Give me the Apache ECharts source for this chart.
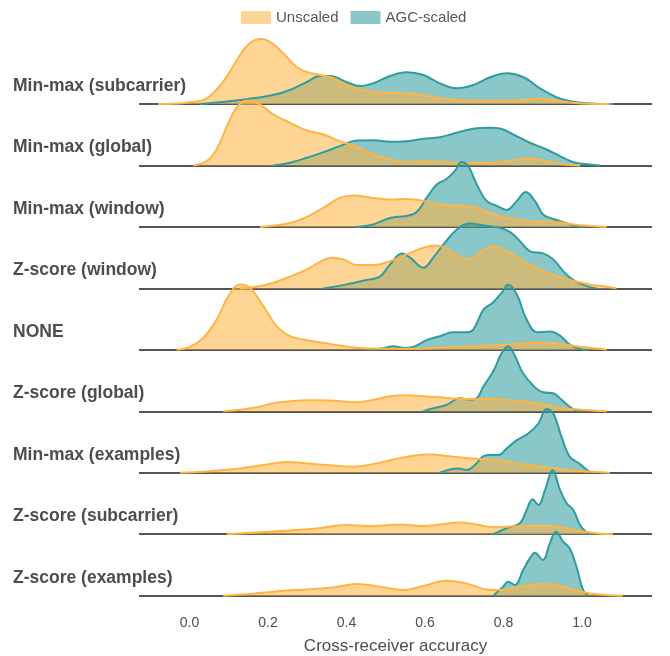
<!DOCTYPE html>
<html><head><meta charset="utf-8">
<script src="https://cdn.jsdelivr.net/npm/echarts@6/dist/echarts.min.js"></script>
<style>html,body{margin:0;padding:0;background:#fff}#c{width:670px;height:656px}</style>
</head><body><div id="c"></div>
<script>
// Rows, top to bottom
const rowNames = ['Min-max (subcarrier)','Min-max (global)','Min-max (window)','Z-score (window)','NONE','Z-score (global)','Min-max (examples)','Z-score (subcarrier)','Z-score (examples)'];
const seriesNames = ['Unscaled','AGC-scaled'];
const xTickValues = [0, 0.2, 0.4, 0.6, 0.8, 1.0];
const xAxisTitle = 'Cross-receiver accuracy';

// density curves: [accuracy, density]
const unscaled_minmaxSubcarrier = [[-0.08,0],[-0.042,0.02],[0.001,0.17],[0.044,0.57],[0.085,2.2],[0.129,4.9],[0.154,6.1],[0.184,6.5],[0.213,6.0],[0.238,5.1],[0.273,3.7],[0.299,3.2],[0.332,2.9],[0.366,2.6],[0.400,1.9],[0.434,1.5],[0.468,1.2],[0.553,1.07],[0.595,0.9],[0.638,0.57],[0.681,0.4],[0.722,0.33],[0.808,0.33],[0.850,0.4],[0.893,0.53],[0.936,0.33],[0.977,0.13],[1.02,0.02],[1.07,0]];
const agc_minmaxSubcarrier = [[0.027,0],[0.129,0.4],[0.213,0.9],[0.256,1.4],[0.299,2.2],[0.332,2.8],[0.358,2.8],[0.400,2.2],[0.434,1.8],[0.468,2.07],[0.511,2.8],[0.553,3.17],[0.596,2.9],[0.638,2.07],[0.681,1.57],[0.723,1.9],[0.766,2.67],[0.808,3.07],[0.850,2.7],[0.893,1.57],[0.936,0.67],[0.978,0.23],[1.020,0.05],[1.08,0]];

const unscaled_minmaxGlobal = [[0.010,0],[0.044,0.43],[0.069,1.6],[0.095,3.9],[0.120,5.8],[0.146,6.5],[0.171,6.3],[0.214,5.1],[0.256,4.27],[0.299,3.5],[0.341,3.1],[0.383,2.43],[0.426,1.87],[0.468,1.1],[0.511,0.6],[0.553,0.33],[0.596,0.43],[0.638,0.37],[0.681,0.27],[0.723,0.27],[0.766,0.27],[0.808,0.43],[0.867,0.7],[0.910,0.43],[0.952,0.13],[0.995,0]];
const agc_minmaxGlobal = [[0.214,0],[0.256,0.27],[0.299,0.77],[0.341,1.33],[0.383,1.93],[0.426,2.5],[0.468,2.53],[0.511,2.37],[0.553,2.43],[0.596,2.67],[0.638,2.83],[0.681,3.27],[0.723,3.67],[0.766,3.77],[0.791,3.7],[0.825,3.1],[0.867,2.27],[0.910,1.6],[0.952,0.77],[0.978,0.33],[1.020,0.1],[1.046,0]];

const unscaled_minmaxWindow = [[0.180,0],[0.256,0.4],[0.299,1.0],[0.341,1.9],[0.383,2.9],[0.417,3.15],[0.468,2.9],[0.511,2.75],[0.553,2.8],[0.596,2.6],[0.638,2.25],[0.681,2.15],[0.723,2.0],[0.766,1.4],[0.808,0.9],[0.850,0.65],[0.893,0.55],[0.936,0.5],[0.978,0.25],[1.020,0.1],[1.063,0]];
const agc_minmaxWindow = [[0.426,0],[0.468,0.25],[0.511,0.9],[0.553,1.1],[0.579,1.5],[0.604,2.9],[0.630,4.25],[0.655,4.8],[0.676,5.6],[0.693,6.5],[0.710,6.1],[0.732,4.25],[0.757,2.6],[0.783,2.1],[0.808,1.7],[0.834,2.6],[0.857,3.5],[0.880,2.6],[0.901,1.25],[0.927,0.8],[0.952,0.5],[0.978,0.15],[1.003,0]];

const unscaled_zscoreWindow = [[0.129,0],[0.171,0.17],[0.214,0.57],[0.256,1.17],[0.299,1.9],[0.332,2.63],[0.362,3.07],[0.392,2.9],[0.426,2.33],[0.468,2.33],[0.511,2.73],[0.553,3.4],[0.596,4.07],[0.630,4.3],[0.655,3.97],[0.681,3.3],[0.710,2.9],[0.740,3.57],[0.774,4.23],[0.808,3.73],[0.850,2.73],[0.893,1.9],[0.936,1.23],[0.978,0.73],[1.020,0.4],[1.063,0.17],[1.088,0]];
const agc_zscoreWindow = [[0.341,0],[0.400,0.4],[0.451,0.83],[0.485,1.17],[0.511,2.4],[0.541,3.5],[0.562,3.07],[0.596,2.07],[0.621,3.07],[0.647,4.4],[0.681,5.9],[0.715,6.5],[0.749,6.3],[0.791,6.07],[0.817,5.63],[0.842,4.73],[0.867,3.73],[0.901,3.5],[0.927,2.9],[0.952,1.73],[0.978,0.83],[1.012,0.23],[1.037,0]];

const unscaled_none = [[-0.033,0],[0.001,0.3],[0.035,1.2],[0.069,3.0],[0.099,5.37],[0.129,6.53],[0.154,6.2],[0.188,4.37],[0.222,2.37],[0.256,1.37],[0.299,0.97],[0.341,0.7],[0.383,0.43],[0.426,0.2],[0.468,0.13],[0.553,0.1],[0.638,0.2],[0.723,0.37],[0.808,0.53],[0.876,0.7],[0.936,0.63],[0.995,0.3],[1.046,0.1],[1.063,0]];
const agc_none = [[0.451,0],[0.494,0.17],[0.519,0.37],[0.545,0.2],[0.570,0.3],[0.604,0.97],[0.638,1.37],[0.672,1.77],[0.706,1.77],[0.723,2.03],[0.749,4.03],[0.774,4.77],[0.795,5.7],[0.812,6.53],[0.834,5.53],[0.859,3.03],[0.885,1.77],[0.918,1.83],[0.944,1.43],[0.969,0.53],[0.995,0.1],[1.012,0]];

const unscaled_zscoreGlobal = [[0.086,0],[0.129,0.15],[0.171,0.4],[0.214,0.8],[0.256,1.0],[0.299,1.1],[0.341,1.1],[0.383,1.0],[0.426,0.9],[0.468,1.15],[0.511,1.5],[0.553,1.6],[0.596,1.5],[0.638,1.4],[0.681,1.25],[0.723,1.2],[0.766,1.25],[0.808,1.15],[0.850,1.0],[0.893,0.75],[0.936,0.4],[0.978,0.2],[1.020,0.1],[1.063,0]];
const agc_zscoreGlobal = [[0.596,0],[0.621,0.3],[0.655,0.65],[0.689,1.3],[0.715,1.15],[0.732,1.3],[0.749,2.5],[0.774,4.0],[0.795,5.8],[0.812,6.5],[0.829,5.55],[0.850,3.8],[0.876,2.55],[0.901,1.9],[0.927,1.8],[0.948,1.15],[0.974,0.3],[0.995,0]];

const unscaled_minmaxExamples = [[-0.024,0],[0.044,0.13],[0.129,0.43],[0.188,0.77],[0.248,1.07],[0.299,0.93],[0.350,0.77],[0.417,0.6],[0.468,0.87],[0.519,1.33],[0.570,1.7],[0.613,1.83],[0.655,1.67],[0.698,1.5],[0.740,1.37],[0.783,1.27],[0.825,1.0],[0.867,0.77],[0.910,0.53],[0.952,0.33],[0.995,0.17],[1.071,0]];
const agc_minmaxExamples = [[0.638,0],[0.664,0.33],[0.685,0.43],[0.706,0.27],[0.727,0.77],[0.749,1.67],[0.766,1.77],[0.787,1.77],[0.808,2.43],[0.834,3.27],[0.863,3.93],[0.889,4.93],[0.910,6.37],[0.927,5.93],[0.948,3.6],[0.969,1.6],[0.995,0.87],[1.016,0.2],[1.033,0]];

const unscaled_zscoreSubcarrier = [[0.095,0],[0.171,0.17],[0.256,0.37],[0.324,0.57],[0.400,0.93],[0.468,0.83],[0.536,0.97],[0.596,0.83],[0.638,0.97],[0.689,1.17],[0.732,0.97],[0.774,0.7],[0.817,0.77],[0.867,0.83],[0.918,0.83],[0.961,0.6],[1.003,0.27],[1.046,0.05],[1.079,0]];
const agc_zscoreSubcarrier = [[0.774,0],[0.808,0.6],[0.842,1.1],[0.859,2.43],[0.874,3.5],[0.889,2.93],[0.906,4.43],[0.925,6.43],[0.944,4.43],[0.961,3.1],[0.978,2.43],[0.995,0.93],[1.012,0.17],[1.025,0]];

const unscaled_zscoreExamples = [[0.086,0],[0.154,0.17],[0.231,0.47],[0.299,0.63],[0.366,0.83],[0.426,1.17],[0.485,0.9],[0.545,0.57],[0.596,0.97],[0.655,1.5],[0.706,1.23],[0.757,0.63],[0.799,0.57],[0.842,0.9],[0.893,1.17],[0.936,1.07],[0.978,0.63],[1.020,0.23],[1.104,0]];
const agc_zscoreExamples = [[0.774,0],[0.799,0.9],[0.812,1.4],[0.829,1.07],[0.850,2.57],[0.867,3.73],[0.880,4.3],[0.900,3.57],[0.918,5.23],[0.934,6.4],[0.952,5.4],[0.969,4.73],[0.986,2.9],[1.003,0.57],[1.016,0]];

const unscaledCurves = [unscaled_minmaxSubcarrier, unscaled_minmaxGlobal, unscaled_minmaxWindow, unscaled_zscoreWindow, unscaled_none, unscaled_zscoreGlobal, unscaled_minmaxExamples, unscaled_zscoreSubcarrier, unscaled_zscoreExamples];
const agcCurves = [agc_minmaxSubcarrier, agc_minmaxGlobal, agc_minmaxWindow, agc_zscoreWindow, agc_none, agc_zscoreGlobal, agc_minmaxExamples, agc_zscoreSubcarrier, agc_zscoreExamples];

// styling
const ridgeScale = 1 / 6.15; // density -> row units
const orange = { line: '#FFB444', fill: '#FFB444', legend: '#FFD596' };
const teal = { line: '#2F9CA0', fill: '#2E9B9F', legend: '#8AC7C9' };
const fillOpacity = 0.56;
const FONT = '"Liberation Sans", Arial, Helvetica, sans-serif';

const nRows = rowNames.length;
const series = [];
rowNames.forEach((rn, i) => {
  const off = nRows - 1 - i;
  [[seriesNames[1], agcCurves[i], teal], [seriesNames[0], unscaledCurves[i], orange]].forEach(([sName, pts, c]) => {
    series.push({
      name: sName, type: 'line',
      data: pts.map(p => [p[0], off + p[1] * ridgeScale]),
      smooth: 0.4, showSymbol: false, symbol: 'none', clip: false, silent: true,
      lineStyle: { color: c.line, width: 2 },
      itemStyle: { color: c.legend },
      areaStyle: { color: c.fill, opacity: fillOpacity, origin: off }
    });
  });
});

const chart = echarts.init(document.getElementById('c'), null, { renderer: 'canvas' });
chart.setOption({
  animation: false,
  backgroundColor: '#fff',
  legend: {
    data: seriesNames, top: 5, left: 236, icon: 'rect',
    itemWidth: 30, itemHeight: 13, itemGap: 12,
    itemStyle: { borderWidth: 0 },
    textStyle: { fontSize: 15, color: '#555', fontFamily: FONT }
  },
  grid: { left: 139, right: 18, top: 104, bottom: 60.3, containLabel: false, outerBoundsMode: 'none' },
  xAxis: {
    type: 'value', min: -0.1287, max: 1.1784,
    axisLine: { show: false }, axisTick: { show: false }, splitLine: { show: false },
    axisLabel: { customValues: xTickValues, formatter: v => Number(v).toFixed(1), color: '#4d4d4d', fontSize: 14, margin: 20, fontFamily: FONT },
    name: xAxisTitle, nameLocation: 'middle', nameGap: 42,
    nameTextStyle: { fontSize: 17, color: '#4d4d4d', fontFamily: FONT }
  },
  yAxis: {
    type: 'value', min: 0, max: nRows - 1, interval: 1,
    axisLine: { show: false }, axisTick: { show: false },
    splitLine: { show: true, lineStyle: { color: '#555', width: 2 } },
    axisLabel: {
      formatter: v => '{a|' + rowNames[nRows - 1 - v] + '}\n{b| }',
      align: 'left', verticalAlign: 'middle', margin: 126,
      rich: {
        a: { fontWeight: 'bold', fontSize: 17.5, color: '#4d4d4d', fontFamily: FONT, lineHeight: 20 },
        b: { fontSize: 10, lineHeight: 36, height: 36 }
      }
    }
  },
  series: series
});
</script></body></html>
